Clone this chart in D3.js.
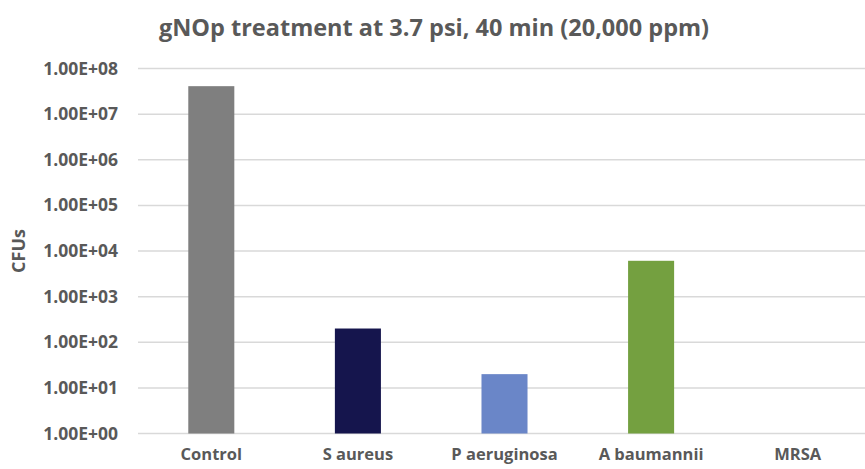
<!DOCTYPE html>
<html>
<head>
<meta charset="utf-8">
<script src="https://cdn.jsdelivr.net/npm/d3@7"></script>
<style>
  body { margin: 0; background: #fff; }
  text { font-family: "Open Sans", sans-serif; font-weight: bold; fill: #595959; }
</style>
</head>
<body>
<div id="chart"></div>
<script>
// data
var categories = ["Control", "S aureus", "P aeruginosa", "A baumannii", "MRSA"];
var cfus = [41000000, 200, 20, 6100, 1];
var barColors = ["#7f7f7f", "#15154d", "#6a86c8", "#74a040", "#a5a5a5"];
var tickValues = [1, 1e1, 1e2, 1e3, 1e4, 1e5, 1e6, 1e7, 1e8];

var width = 865,
  height = 469;

var svg = d3.select("#chart")
  .append("svg")
  .attr("width", width)
  .attr("height", height);

var x = d3.scaleBand()
  .domain(categories)
  .range([138, 871])
  .paddingInner(0.686)
  .paddingOuter(0.343);

var y = d3.scaleLog()
  .domain([1, 1e8])
  .range([433.5, 68.5]);

// gridlines
svg.append("g")
  .selectAll("line")
  .data(tickValues)
  .enter().append("line")
  .attr("x1", 138)
  .attr("x2", width)
  .attr("y1", function(d) { return y(d); })
  .attr("y2", function(d) { return y(d); })
  .attr("stroke", "#d9d9d9")
  .attr("stroke-width", 1.5);

// bars
var data = categories.map(function(c, i) { return { name: c, value: cfus[i], color: barColors[i] }; });

svg.append("g")
  .selectAll("rect")
  .data(data)
  .enter().append("rect")
  .attr("x", function(d) { return x(d.name); })
  .attr("width", x.bandwidth())
  .attr("y", function(d) { return y(d.value); })
  .attr("height", function(d) { return y(1) - y(d.value); })
  .attr("fill", function(d) { return d.color; });

// y axis labels
var yAxis = d3.axisLeft(y)
  .tickValues(tickValues)
  .tickSize(0)
  .tickPadding(20)
  .tickFormat(function(d) { return d.toExponential(2).replace("e", "E").replace(/E([+-])(\d)$/, "E$10$2"); });

svg.append("g")
  .attr("transform", "translate(138,0)")
  .call(yAxis)
  .call(function(g) { g.select(".domain").remove(); })
  .selectAll("text")
  .attr("font-size", 17.5)
  .style("fill", "#595959")
  .style("font-family", "'Open Sans', sans-serif");

// x axis labels
var xAxis = d3.axisBottom(x).tickSize(0).tickPadding(15);

svg.append("g")
  .attr("transform", "translate(0,433.5)")
  .call(xAxis)
  .call(function(g) { g.select(".domain").remove(); })
  .selectAll("text")
  .attr("font-size", 16.5)
  .style("fill", "#595959")
  .style("font-family", "'Open Sans', sans-serif");

// title
svg.append("text")
  .attr("x", 434)
  .attr("y", 36)
  .attr("text-anchor", "middle")
  .attr("font-size", 23.5)
  .text("gNOp treatment at 3.7 psi, 40 min (20,000 ppm)");

// y axis title
svg.append("text")
  .attr("transform", "translate(25,251) rotate(-90)")
  .attr("text-anchor", "middle")
  .attr("font-size", 18)
  .text("CFUs");
</script>
</body>
</html>
